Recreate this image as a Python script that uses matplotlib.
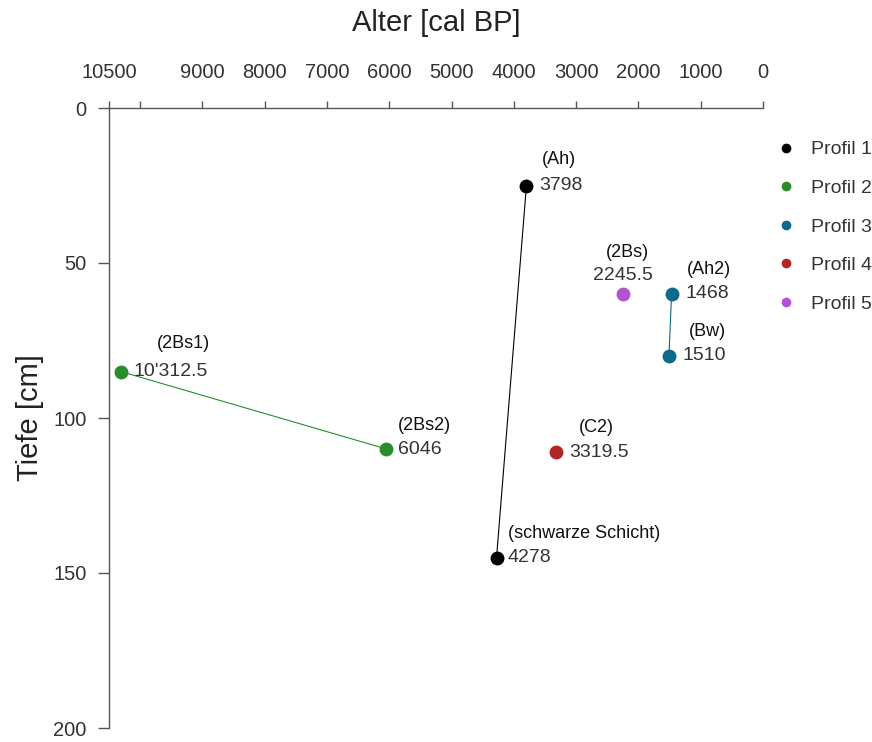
import matplotlib.pyplot as plt
from matplotlib.lines import Line2D

plt.rcParams['font.family'] = ['Liberation Sans', 'DejaVu Sans']

# Radiocarbon ages (cal BP) and sample depths (cm) per profile
profiles = ["Profil 1", "Profil 2", "Profil 3", "Profil 4", "Profil 5"]
colors = ["#000000", "#2a8c2a", "#0e6a8a", "#b32525", "#b552d2"]

ages = [
    [3798, 4278],
    [10312.5, 6046],
    [1468, 1510],
    [3319.5],
    [2245.5],
]
depths = [
    [25, 145],
    [85, 110],
    [60, 80],
    [111],
    [60],
]
horizons = [
    ["(Ah)", "(schwarze Schicht)"],
    ["(2Bs1)", "(2Bs2)"],
    ["(Ah2)", "(Bw)"],
    ["(C2)"],
    ["(2Bs)"],
]

x_ticks = [10500, 10000, 9000, 8000, 7000, 6000, 5000, 4000, 3000, 2000, 1000, 0]
x_ticklabels = ["10500", "", "9000", "8000", "7000", "6000", "5000", "4000",
                "3000", "2000", "1000", "0"]
y_ticks = [0, 50, 100, 150, 200]

# label offsets in points: (value label dx, dy, ha), (horizon label dx, dy, ha)
value_off = [
    [(9, 0, "left"), (8, 0, "left")],
    [(9, 0, "left"), (8, 0, "left")],
    [(10, 0, "left"), (10, 0, "left")],
    [(9, 0, "left")],
    [(0, 13, "center")],
]
horizon_off = [
    [(11, 19, "left"), (8, 17, "left")],
    [(26, 20, "left"), (8, 17, "left")],
    [(11, 18, "left"), (14, 18, "left")],
    [(16, 18, "left")],
    [(3, 30, "center")],
]


def fmt_age(v):
    s = f"{v:g}"
    if v >= 10000:
        s = f"{v:,g}".replace(",", "'")
    return s


fig = plt.figure(figsize=(8.72, 7.42), dpi=100)
ax = fig.add_axes([109 / 872, 1 - 728 / 742, 654 / 872, 620 / 742])

for i, name in enumerate(profiles):
    c = colors[i]
    if len(ages[i]) > 1:
        ax.plot(ages[i], depths[i], color=c, lw=0.8, zorder=2)
    ax.plot(ages[i], depths[i], "o", color=c, ms=10, mec="none", zorder=3,
            clip_on=False)
    for j, (a, d) in enumerate(zip(ages[i], depths[i])):
        dx, dy, ha = value_off[i][j]
        ax.annotate(fmt_age(a), (a, d), xytext=(dx, dy), textcoords="offset points",
                    ha=ha, va="center", fontsize=14, color="#333333")
        dx, dy, ha = horizon_off[i][j]
        ax.annotate(horizons[i][j], (a, d), xytext=(dx, dy), textcoords="offset points",
                    ha=ha, va="center", fontsize=13, color="#111111")

ax.set_xlim(10500, 0)
ax.set_ylim(200, 0)

ax.xaxis.tick_top()
ax.xaxis.set_label_position("top")
ax.set_xticks(x_ticks)
ax.set_xticklabels(x_ticklabels)
ax.set_yticks(y_ticks)

for s in ["right", "bottom"]:
    ax.spines[s].set_visible(False)
for s in ["left", "top"]:
    ax.spines[s].set_color("#555555")
    ax.spines[s].set_linewidth(1.0)

ax.tick_params(axis="x", direction="out", length=5, width=1, color="#555555",
               pad=14, labelsize=14.5, labelcolor="#333333")
ax.tick_params(axis="y", direction="out", length=8, width=1, color="#555555",
               pad=8, labelsize=14.5, labelcolor="#333333")

ax.set_xlabel("Alter [cal BP]", fontsize=21, labelpad=23, color="#222222")
ax.set_ylabel("Tiefe [cm]", fontsize=21, labelpad=7, color="#222222")

handles = [Line2D([], [], marker="o", ls="", color=c, mec="none", markersize=7)
           for c in colors]
fig.legend(handles, profiles, loc="upper left",
           bbox_to_anchor=(770 / 872, 1 - 135 / 742), frameon=False,
           fontsize=14, labelspacing=1.08, handlelength=1.0, handletextpad=0.8,
           borderaxespad=0, borderpad=0.3, labelcolor="#333333")

fig.savefig("out.png", dpi=100)
